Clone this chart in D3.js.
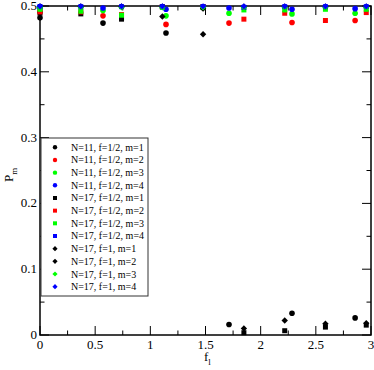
<!DOCTYPE html>
<html>
<head>
  <meta charset="utf-8">
  <script src="https://cdn.jsdelivr.net/npm/d3@7"></script>
  <style type="text/css">
  body { margin: 0; background: #fff; }
  text { font-family: "Liberation Serif", "DejaVu Serif", serif; fill: #000; }
  .frame { fill: none; stroke: #000; stroke-width: 1.5; }
  .tick-line { stroke: #000; stroke-width: 1; }
  </style>
</head>
<body>
<div id="chart"></div>
<script>
// lattice positions f_l for the two chain lengths
var xN11 = [0, 0.571, 1.142, 1.713, 2.284, 2.856];
var xN17 = [0, 0.370, 0.739, 1.109, 1.478, 1.848, 2.218, 2.587, 2.957];

// N=11, f=1/2 (circles)
var n11m1 = [0.482, 0.474, 0.459, 0.016, 0.033, 0.026];
var n11m2 = [0.491, 0.485, 0.472, 0.474, 0.475, 0.478];
var n11m3 = [0.496, 0.493, 0.485, 0.489, 0.488, 0.489];
var n11m4 = [0.499, 0.497, 0.495, 0.497, 0.495, 0.496];

// N=17, f=1/2 (squares)
var n17hm1 = [0.489, 0.488, 0.480, 0.499, 0.499, 0.0035, 0.0065, 0.012, 0.015];
var n17hm2 = [0.491, 0.491, 0.487, 0.499, 0.499, 0.480, 0.489, 0.478, 0.490];
var n17hm3 = [0.495, 0.492, 0.486, 0.498, 0.498, 0.494, 0.494, 0.495, 0.495];
var n17hm4 = [0.499, 0.499, 0.499, 0.499, 0.499, 0.498, 0.499, 0.499, 0.499];

// N=17, f=1 (diamonds)
var n17fm1 = [0.499, 0.499, 0.499, 0.484, 0.457, 0.010, 0.022, 0.017, 0.018];
var n17fm2 = [0.499, 0.499, 0.499, 0.499, 0.496, 0.499, 0.499, 0.499, 0.499];
var n17fm3 = [0.498, 0.498, 0.498, 0.498, 0.498, 0.498, 0.498, 0.498, 0.498];
var n17fm4 = [0.4995, 0.4995, 0.4995, 0.4995, 0.4995, 0.4995, 0.4995, 0.4995, 0.4995];

var xTicks = [0, 0.5, 1, 1.5, 2, 2.5, 3];
var yTicks = [0, 0.1, 0.2, 0.3, 0.4, 0.5];

var series = [
  {label: "N=11, f=1/2, m=1", xs: xN11, ys: n11m1, shape: "circle",  color: "#000"},
  {label: "N=11, f=1/2, m=2", xs: xN11, ys: n11m2, shape: "circle",  color: "#ff0000"},
  {label: "N=11, f=1/2, m=3", xs: xN11, ys: n11m3, shape: "circle",  color: "#00ff00"},
  {label: "N=11, f=1/2, m=4", xs: xN11, ys: n11m4, shape: "circle",  color: "#0000ff"},
  {label: "N=17, f=1/2, m=1", xs: xN17, ys: n17hm1, shape: "square", color: "#000"},
  {label: "N=17, f=1/2, m=2", xs: xN17, ys: n17hm2, shape: "square", color: "#ff0000"},
  {label: "N=17, f=1/2, m=3", xs: xN17, ys: n17hm3, shape: "square", color: "#00ff00"},
  {label: "N=17, f=1/2, m=4", xs: xN17, ys: n17hm4, shape: "square", color: "#0000ff"},
  {label: "N=17, f=1, m=1",   xs: xN17, ys: n17fm1, shape: "diamond", color: "#000"},
  {label: "N=17, f=1, m=2",   xs: xN17, ys: n17fm2, shape: "diamond", color: "#000"},
  {label: "N=17, f=1, m=3",   xs: xN17, ys: n17fm3, shape: "diamond", color: "#00ff00"},
  {label: "N=17, f=1, m=4",   xs: xN17, ys: n17fm4, shape: "diamond", color: "#0000ff"}
];

var width = 374, height = 370;
// plot box (window.top is read-only, so use a prefix)
var pL = 40, pR = 371, pT = 6, pB = 335;

var svg = d3.select("#chart").append("svg")
            .attr("width", width)
            .attr("height", height);

var x = d3.scaleLinear().domain([0, 3]).range([pL, pR]);
var y = d3.scaleLinear().domain([0, 0.5]).range([pB, pT]);

// ticks on all four sides, pointing inward
var xMinor = d3.range(0.25, 3, 0.5);
var yMinor = d3.range(0.05, 0.5, 0.1);

var ticks = svg.append("g");
function hTicks(vals, len) {
  vals.forEach(function(v) {
    ticks.append("line").attr("class", "tick-line")
         .attr("x1", x(v)).attr("x2", x(v)).attr("y1", pB).attr("y2", pB - len);
    ticks.append("line").attr("class", "tick-line")
         .attr("x1", x(v)).attr("x2", x(v)).attr("y1", pT).attr("y2", pT + len);
  });
}
function vTicks(vals, len) {
  vals.forEach(function(v) {
    ticks.append("line").attr("class", "tick-line")
         .attr("x1", pL).attr("x2", pL + len).attr("y1", y(v)).attr("y2", y(v));
    ticks.append("line").attr("class", "tick-line")
         .attr("x1", pR).attr("x2", pR - len).attr("y1", y(v)).attr("y2", y(v));
  });
}
hTicks(xTicks, 9);
hTicks(xMinor, 4.5);
vTicks(yTicks, 9);
vTicks(yMinor, 4.5);

svg.append("rect").attr("class", "frame")
   .attr("x", pL).attr("y", pT)
   .attr("width", pR - pL).attr("height", pB - pT);

// tick labels
svg.append("g").selectAll("text")
   .data(xTicks).enter().append("text")
   .attr("x", function(d) { return x(d); })
   .attr("y", pB + 14)
   .attr("text-anchor", "middle")
   .attr("font-size", 13)
   .text(function(d) { return d3.format("")(d); });

svg.append("g").selectAll("text")
   .data(yTicks).enter().append("text")
   .attr("x", pL - 3)
   .attr("y", function(d) { return y(d) + 4; })
   .attr("text-anchor", "end")
   .attr("font-size", 13)
   .text(function(d) { return d3.format("")(d); });

// axis titles
var xl = svg.append("text")
            .attr("x", 204).attr("y", 361)
            .attr("font-size", 13);
xl.append("tspan").text("f");
xl.append("tspan").attr("font-size", 9).attr("dy", 4).text("l");

var yl = svg.append("text")
            .attr("transform", "translate(13,182) rotate(-90)")
            .attr("font-size", 13);
yl.append("tspan").text("P");
yl.append("tspan").attr("font-size", 9).attr("dy", 4).text("m");

// marker shapes
var symbolFor = {
  circle: function(r) { return d3.symbol(d3.symbolCircle, Math.PI * r * r)(); },
  square: function(r) { return d3.symbol(d3.symbolSquare, (2 * r) * (2 * r))(); },
  diamond: function(r) { return "M0," + (-r) + "L" + r + ",0L0," + r + "L" + (-r) + ",0Z"; }
};
var plotSize = {circle: 2.8, square: 2.5, diamond: 3.2};
var legSize = {circle: 2.2, square: 2.0, diamond: 2.6};

var marks = svg.append("g");
series.forEach(function(s) {
  marks.append("g").selectAll("path")
       .data(s.ys).enter().append("path")
       .attr("transform", function(d, i) {
         return "translate(" + x(s.xs[i]) + "," + y(d) + ")";
       })
       .attr("d", symbolFor[s.shape](plotSize[s.shape]))
       .attr("fill", s.color);
});

// legend
var legend = svg.append("g");
legend.append("rect")
      .attr("x", 41).attr("y", 138)
      .attr("width", 107).attr("height", 158)
      .attr("fill", "#fff")
      .attr("stroke", "#333")
      .attr("stroke-width", 1);

var rows = legend.selectAll("g.row")
                 .data(series).enter().append("g")
                 .attr("class", "row")
                 .attr("transform", function(d, i) {
                   return "translate(55," + (147.3 + i * 12.67) + ")";
                 });
rows.append("path")
    .attr("d", function(d) { return symbolFor[d.shape](legSize[d.shape]); })
    .attr("fill", function(d) { return d.color; });
rows.append("text")
    .attr("x", 16).attr("y", 3.5)
    .attr("font-size", 10)
    .text(function(d) { return d.label; });
</script>
</body>
</html>
